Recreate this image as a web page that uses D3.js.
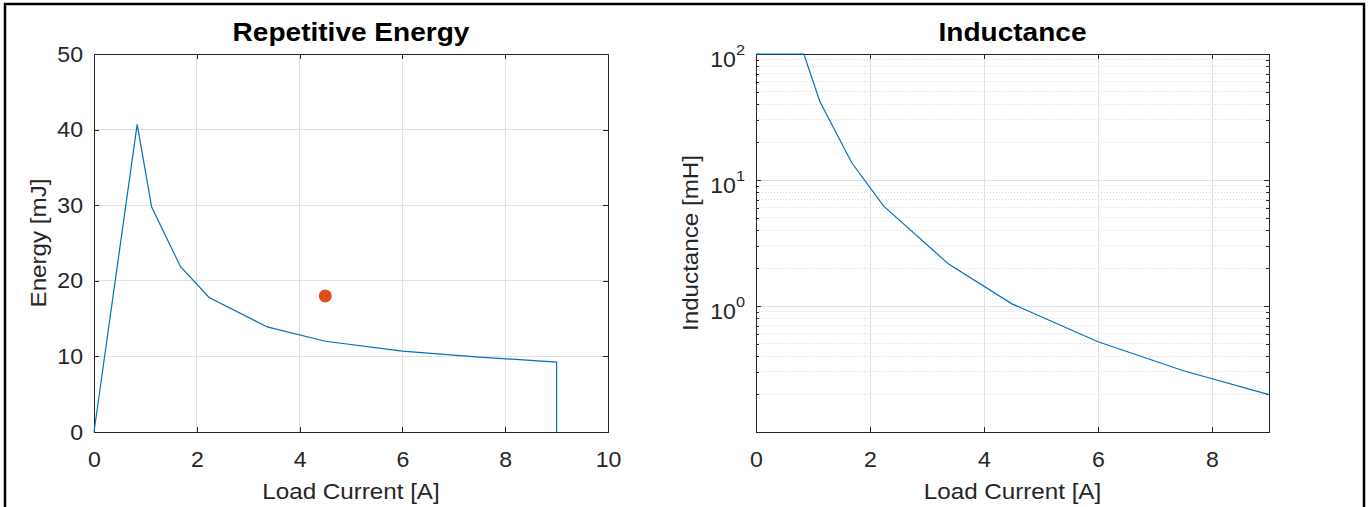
<!DOCTYPE html>
<html lang="en">
<head>
    <meta charset="UTF-8">
    <title>Repetitive Energy and Inductance</title>
    <script src="https://d3js.org/d3.v7.min.js"></script>
    <style>
        * { margin: 0; padding: 0; box-sizing: border-box; }
        body { background: #ffffff; width: 1370px; height: 507px; overflow: hidden; }
        svg text { font-family: "Liberation Sans", Arial, sans-serif; fill: #262626; }
        .axis path, .axis line { stroke: #262626; shape-rendering: crispEdges; }
        .grid line { stroke: #e1e1e1; shape-rendering: crispEdges; }
        .minor-grid line { stroke: #d9d9d9; stroke-dasharray: 1,2; shape-rendering: crispEdges; }
    </style>
</head>
<body>
    <svg id="chart" width="1370" height="507"></svg>

    <script>
        // Repetitive energy vs load current
        const energyCurrent = [0, 0.84, 1.12, 1.68, 2.24, 3.37, 4.5, 6.0, 7.5, 9.0, 9.0];
        const energyValues  = [0, 40.7, 29.8, 21.9, 17.8, 13.9, 12.0, 10.7, 9.9, 9.25, 0];
        // operating point
        const pointCurrent = [4.5];
        const pointEnergy  = [18];

        // Inductance vs load current (log axis, clipped at 100 mH)
        const inductCurrent = [0, 0.84, 1.12, 1.68, 2.24, 3.38, 4.49, 6.0, 7.5, 9.0];
        const inductValues  = [100, 100, 42, 13.7, 6.2, 2.15, 1.04, 0.52, 0.306, 0.198];

        const energyXTicks = [0, 2, 4, 6, 8, 10];
        const energyYTicks = [0, 10, 20, 30, 40, 50];
        const inductXTicks = [0, 2, 4, 6, 8];
        const inductYTicks = [1, 10, 100];
        const inductMinor  = [0.2, 0.3, 0.4, 0.5, 0.6, 0.7, 0.8, 0.9,
                              2, 3, 4, 5, 6, 7, 8, 9,
                              20, 30, 40, 50, 60, 70, 80, 90];

        const blue = "#0072BD";
        const orange = "#D95319";
        const stretch = 1.1;     // the original font runs a bit wider than Liberation Sans
        const tickStretch = 1.05;

        const svg = d3.select("#chart");
        svg.append("rect").attr("width", 1370).attr("height", 507).attr("fill", "#fff");

        // outer frame
        svg.append("rect")
            .attr("x", 5).attr("y", 4)
            .attr("width", 1359).attr("height", 530)
            .attr("fill", "none").attr("stroke", "#000").attr("stroke-width", 2.5);

        function label(x, y, str, size, opts = {}) {
            const t = svg.append("text")
                .attr("transform", `translate(${x},${y})` + (opts.rotate ? " rotate(-90)" : "") + ` scale(${stretch},1)`)
                .attr("text-anchor", "middle")
                .style("font-size", size + "px")
                .text(str);
            if (opts.bold) t.style("font-weight", "bold").style("fill", "#000");
            return t;
        }

        function drawAxes(box, x, y, xTicks, yTicks, opts = {}) {
            const g = svg.append("g");
            const tick = 5;

            // major grid
            g.append("g").attr("class", "grid")
                .selectAll("line").data(xTicks).join("line")
                .attr("x1", d => x(d)).attr("x2", d => x(d))
                .attr("y1", box.top).attr("y2", box.bottom);
            g.append("g").attr("class", "grid")
                .selectAll("line").data(yTicks).join("line")
                .attr("x1", box.left).attr("x2", box.right)
                .attr("y1", d => y(d)).attr("y2", d => y(d));

            if (opts.minor) {
                g.append("g").attr("class", "minor-grid")
                    .selectAll("line").data(opts.minor).join("line")
                    .attr("x1", box.left).attr("x2", box.right)
                    .attr("y1", d => y(d)).attr("y2", d => y(d));
            }

            const bottom = g.append("g").attr("class", "axis")
                .attr("transform", `translate(0,${box.bottom})`)
                .call(d3.axisBottom(x).tickValues(xTicks).tickSizeInner(-tick).tickSizeOuter(0).tickPadding(19));
            g.append("g").attr("class", "axis")
                .attr("transform", `translate(0,${box.top})`)
                .call(d3.axisTop(x).tickValues(xTicks).tickSizeInner(-tick).tickSizeOuter(0).tickFormat(""));
            const left = g.append("g").attr("class", "axis")
                .attr("transform", `translate(${box.left},0)`)
                .call(d3.axisLeft(y).tickValues(yTicks).tickSizeInner(-tick).tickSizeOuter(0).tickPadding(11));
            g.append("g").attr("class", "axis")
                .attr("transform", `translate(${box.right},0)`)
                .call(d3.axisRight(y).tickValues(yTicks).tickSizeInner(-tick).tickSizeOuter(0).tickFormat(""));

            if (opts.minor) {
                g.append("g").attr("class", "axis")
                    .attr("transform", `translate(${box.left},0)`)
                    .call(d3.axisLeft(y).tickValues(opts.minor).tickSizeInner(-3).tickSizeOuter(0).tickFormat(""))
                    .select(".domain").remove();
                g.append("g").attr("class", "axis")
                    .attr("transform", `translate(${box.right},0)`)
                    .call(d3.axisRight(y).tickValues(opts.minor).tickSizeInner(-3).tickSizeOuter(0).tickFormat(""))
                    .select(".domain").remove();
            }

            bottom.selectAll("text")
                .attr("transform", `scale(${tickStretch},1)`)
                .style("font-size", "22px").attr("fill", "#262626");
            left.selectAll("text")
                .attr("transform", `scale(${tickStretch},1)`)
                .attr("x", -11 / tickStretch)
                .style("font-size", "22px").attr("fill", "#262626");

            return { g, left, bottom };
        }

        // ---------- Repetitive Energy ----------
        const boxE = { left: 94, right: 608, top: 54, bottom: 432 };
        const xE = d3.scaleLinear().domain([0, 10]).range([boxE.left, boxE.right]);
        const yE = d3.scaleLinear().domain([0, 50]).range([boxE.bottom, boxE.top]);
        drawAxes(boxE, xE, yE, energyXTicks, energyYTicks);

        svg.append("defs").append("clipPath").attr("id", "clipE")
            .append("rect").attr("x", boxE.left - 1).attr("y", boxE.top - 1)
            .attr("width", boxE.right - boxE.left + 2).attr("height", boxE.bottom - boxE.top + 2);

        const energyData = energyCurrent.map((c, i) => [c, energyValues[i]]);
        svg.append("path")
            .datum(energyData)
            .attr("clip-path", "url(#clipE)")
            .attr("fill", "none")
            .attr("stroke", blue)
            .attr("stroke-width", 1.2)
            .attr("d", d3.line().x(d => xE(d[0])).y(d => yE(d[1])));

        svg.selectAll(".pt")
            .data(pointCurrent.map((c, i) => [c, pointEnergy[i]]))
            .join("circle")
            .attr("cx", d => xE(d[0]))
            .attr("cy", d => yE(d[1]))
            .attr("r", 6.5)
            .attr("fill", orange);

        label((boxE.left + boxE.right) / 2, 41, "Repetitive Energy", 25.5, { bold: true });
        label((boxE.left + boxE.right) / 2, 499, "Load Current [A]", 22);
        label(46, (boxE.top + boxE.bottom) / 2, "Energy [mJ]", 22, { rotate: true });

        // ---------- Inductance ----------
        const boxL = { left: 756, right: 1269, top: 54, bottom: 432 };
        const xL = d3.scaleLinear().domain([0, 9]).range([boxL.left, boxL.right]);
        const yL = d3.scaleLog().domain([0.1, 100]).range([boxL.bottom, boxL.top]);
        const axL = drawAxes(boxL, xL, yL, inductXTicks, inductYTicks, { minor: inductMinor });

        // 10^n labels
        axL.left.selectAll("text").each(function(d) {
            const t = d3.select(this);
            const exp = Math.round(Math.log10(d));
            t.text(null).attr("dy", "0.55em");
            t.append("tspan").text("10");
            t.append("tspan").attr("dy", -11.5).style("font-size", "15.5px").text(exp);
        });

        svg.append("defs").append("clipPath").attr("id", "clipL")
            .append("rect").attr("x", boxL.left - 1).attr("y", boxL.top - 1)
            .attr("width", boxL.right - boxL.left + 2).attr("height", boxL.bottom - boxL.top + 2);

        const inductData = inductCurrent.map((c, i) => [c, inductValues[i]]);
        svg.append("path")
            .datum(inductData)
            .attr("clip-path", "url(#clipL)")
            .attr("fill", "none")
            .attr("stroke", blue)
            .attr("stroke-width", 1.2)
            .attr("d", d3.line().x(d => xL(d[0])).y(d => yL(d[1])));

        label((boxL.left + boxL.right) / 2, 41, "Inductance", 25.5, { bold: true });
        label((boxL.left + boxL.right) / 2, 499, "Load Current [A]", 22);
        label(698, (boxL.top + boxL.bottom) / 2, "Inductance [mH]", 22, { rotate: true });
    </script>
</body>
</html>
